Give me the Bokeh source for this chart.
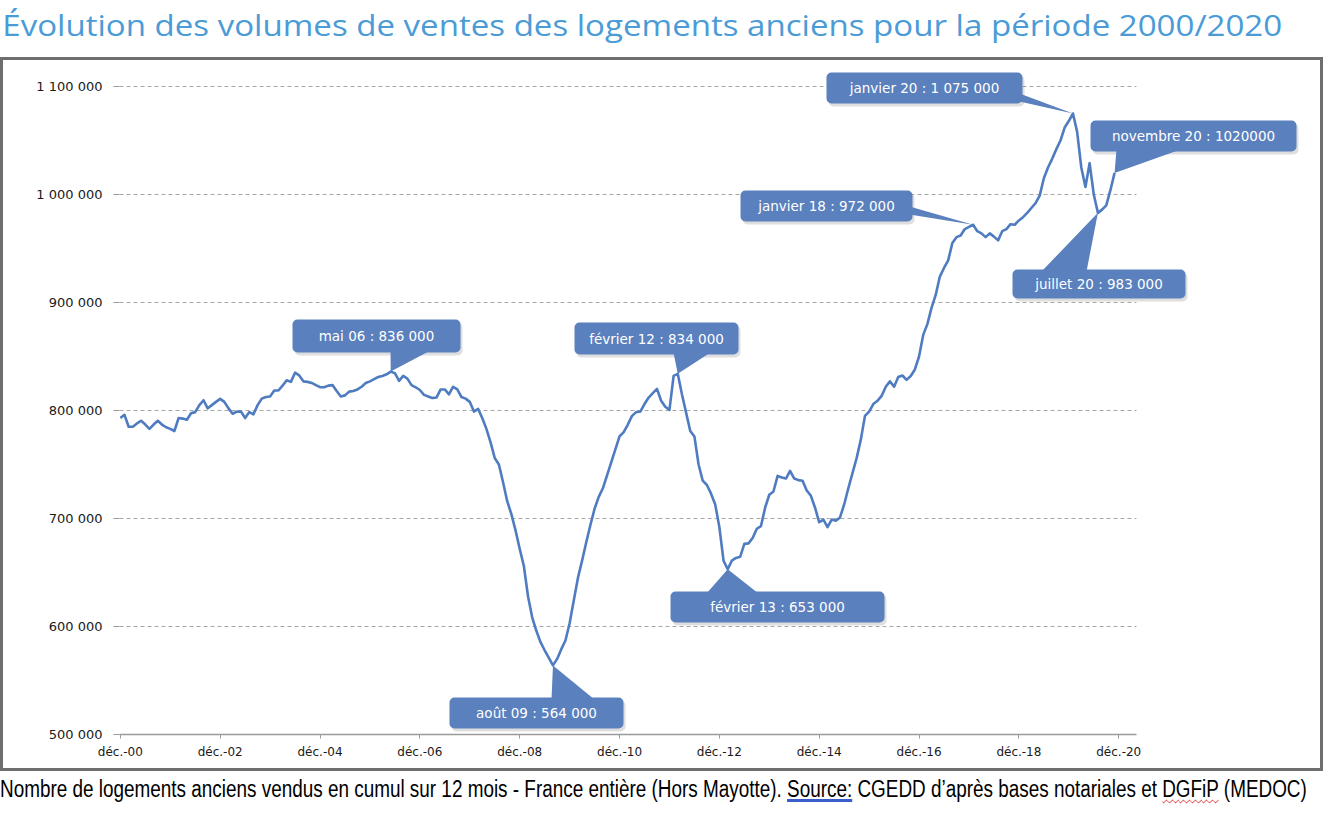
from bokeh.plotting import figure
from bokeh.models import Range1d, FixedTicker, Label, BoxAnnotation, PolyAnnotation, Div
from bokeh.layouts import column
from bokeh.embed import file_html
from bokeh.resources import INLINE

# ---------------- data ----------------
# month index: 0 = déc. 2000 ... 239 = nov. 2020
months = list(range(240))
ventes_milliers = [
    793, 796, 785, 785, 788, 790.5, 787, 783, 787, 790.5, 787, 784.5,
    783, 781, 793, 792.5, 791.5, 797.5, 798.5, 805, 809.5, 802, 805, 808,
    810.8, 808, 802, 797, 799, 799, 793, 798.5, 796.5, 805, 811, 812.5,
    813, 818.5, 818.5, 823, 828, 826.5, 835, 832.5, 827, 826.5, 825.5, 823.5,
    821.6, 821.5, 823, 823.5, 818, 813, 814, 817.5, 818, 819.5, 822, 825.5,
    827, 829, 831, 832, 833.5, 836, 834.5, 827.5, 832, 829.5, 823.5, 821.5,
    819, 814.5, 813, 811.5, 812, 819.5, 819.5, 815, 822, 819.5, 812.5, 811,
    808, 799, 801.5, 793, 783, 770.5, 756, 750, 733.5, 716, 704, 689,
    672, 656, 628, 608.5, 596, 585.5, 578, 571, 564, 570, 579, 587,
    603, 624, 645, 661, 678, 694, 709, 720, 728, 740, 752, 764,
    776, 780, 787, 795, 798.5, 799, 806, 812, 816, 820, 809, 803.5,
    800.5, 832, 834, 815, 798, 781, 776, 750, 735, 731, 723, 713,
    692, 661, 653, 661, 663.5, 664.5, 676.5, 677, 682, 690.5, 693, 710,
    722, 725, 739.5, 738, 737, 744, 737, 735.5, 735, 726, 721, 710,
    696.5, 699, 692, 699, 698, 701, 713, 728, 742, 756, 773, 795,
    799, 806, 809, 813.5, 822, 827, 822, 831, 832.4, 828.4, 832, 838,
    850, 870, 880, 895, 907, 924, 932, 939, 955, 960.5, 962, 968,
    970, 972, 966, 964, 960.5, 964, 961, 957.5, 966, 968, 972.5, 972,
    976, 979, 983, 987.5, 992, 999, 1015, 1025, 1033, 1042, 1050, 1062,
    1068, 1075, 1058, 1025, 1007, 1029, 1000, 983, 986, 990, 1004, 1020,
]
ventes = [v * 1000 for v in ventes_milliers]

y_ticks = [500000, 600000, 700000, 800000, 900000, 1000000, 1100000]
y_tick_labels = ["500 000", "600 000", "700 000", "800 000", "900 000", "1 000 000", "1 100 000"]
x_ticks = [0, 24, 48, 72, 96, 120, 144, 168, 192, 216, 240]
x_tick_labels = ["déc.-00", "déc.-02", "déc.-04", "déc.-06", "déc.-08", "déc.-10",
                 "déc.-12", "déc.-14", "déc.-16", "déc.-18", "déc.-20"]

callout_months = [65, 104, 134, 146, 205, 229, 235, 239]
callout_texts = ["mai 06 : 836 000", "août 09 : 564 000", "février 12 : 834 000",
                 "février 13 : 653 000", "janvier 18 : 972 000", "janvier 20 : 1 075 000",
                 "juillet 20 : 983 000", "novembre 20 : 1020000"]

title_text = "Évolution des volumes de ventes des logements anciens pour la période 2000/2020"
footer_a = "Nombre de logements anciens vendus en cumul sur 12 mois - France entière (Hors Mayotte)."
footer_src = "Source:"
footer_b = "CGEDD d’après bases notariales et"
footer_dgfip = "DGFiP"
footer_c = "(MEDOC)"

# ---------------- layout (page pixels) ----------------
W = 1328
TOP_H, FIG_H, FOOT_H = 57, 714, 43      # title strip, bordered chart, footer strip
FL, FR, FT, FB = 119, 1310, 60, 734     # plot frame on the page
AXIS_END = 1136                          # where the axis line and grid lines stop
X0 = -0.2
PXM = 4.16            # pixels per month
PXV = 1.08 / 1000     # pixels per unit
x_end = X0 + (FR - FL) / PXM
y_end = 500000 + (FB - FT) / PXV


def dx(px):
    return X0 + (px - FL) / PXM


def dy(py):
    return 500000 + (FB - py) / PXV


# callout boxes (left, right, top, bottom) and pointer bases, page pixels
callout_boxes = [(292, 460, 319, 352), (449, 623, 697, 728), (574, 738, 322, 354),
                 (670, 884, 591, 622), (740, 912, 190, 221), (826, 1022, 72, 103),
                 (1012, 1185, 269, 298), (1090, 1296, 120, 151)]
callout_bases = [((390, 350), (430, 350)), ((551, 699), (594, 699)), ((673, 352), (710, 352)),
                 ((706, 593), (758, 593)), ((909, 206), (909, 214)), ((1019, 93), (1019, 101)),
                 ((1041, 271), (1086, 271)), ((1116, 149), (1180, 149))]

BLUE_LINE = "#4F7CC0"
BLUE_BOX = "#5A80BE"
GREY_BORDER = "#6e6e6e"

p = figure(width=W, height=FIG_H, x_range=Range1d(X0, x_end), y_range=Range1d(500000, y_end),
           output_backend="svg", toolbar_location=None,
           min_border_left=FL, min_border_right=W - FR,
           min_border_top=FT - TOP_H, min_border_bottom=TOP_H + FIG_H - FB)
p.title.visible = False
p.outline_line_color = None
p.background_fill_color = None
p.border_fill_color = None
g = "linear-gradient(%s,%s)" % (GREY_BORDER, GREY_BORDER)
p.styles = {
    "background": (f"{g} 0px 0px / 1323px 3px no-repeat, "
                   f"{g} 0px {FIG_H - 3}px / 1323px 3px no-repeat, "
                   f"{g} 0px 0px / 3px {FIG_H}px no-repeat, "
                   f"{g} 1320px 0px / 3px {FIG_H}px no-repeat, #ffffff"),
}

# axes
p.yaxis.ticker = FixedTicker(ticks=y_ticks)
p.yaxis.major_label_overrides = dict(zip(y_ticks, y_tick_labels))
p.yaxis.axis_line_color = None
p.yaxis.major_tick_out = 6
p.yaxis.major_tick_in = 0
p.yaxis.minor_tick_line_color = None
p.yaxis.major_tick_line_color = "#9a9a9a"
p.yaxis.major_label_standoff = 11
p.yaxis.major_label_text_font = "DejaVu Sans"
p.yaxis.major_label_text_font_size = "13px"
p.yaxis.major_label_text_color = "#1a1a1a"

p.xaxis.ticker = FixedTicker(ticks=x_ticks)
p.xaxis.major_label_overrides = dict(zip(x_ticks, x_tick_labels))
p.xaxis.bounds = (X0, dx(AXIS_END))
p.xaxis.axis_line_color = "#9a9a9a"
p.xaxis.axis_line_width = 1.5
p.xaxis.major_tick_out = 4
p.xaxis.major_tick_in = 0
p.xaxis.major_tick_line_color = "#9a9a9a"
p.xaxis.minor_tick_line_color = None
p.xaxis.major_label_standoff = 6
p.xaxis.major_label_text_font = "DejaVu Sans"
p.xaxis.major_label_text_font_size = "12px"
p.xaxis.major_label_text_color = "#1a1a1a"

p.xgrid.grid_line_color = None
p.ygrid.grid_line_color = "#a8a8a8"
p.ygrid.grid_line_dash = "4 3"
p.ygrid.grid_line_width = 1
try:
    p.ygrid.cross_bounds = (X0, dx(AXIS_END))
except Exception:
    p.ygrid.grid_line_color = None
    p.segment(x0=[X0] * len(y_ticks), y0=y_ticks, x1=[dx(AXIS_END)] * len(y_ticks), y1=y_ticks,
              line_color="#a8a8a8", line_dash="4 3", line_width=1)

# series
p.line(months, ventes, line_color=BLUE_LINE, line_width=2.6, line_join="round")

# callouts
for m, txt, box, base in zip(callout_months, callout_texts, callout_boxes, callout_bases):
    l, r, t, b = box
    p.add_layout(BoxAnnotation(left=dx(l + 2), right=dx(r + 2), top=dy(t + 3), bottom=dy(b + 3),
                               fill_color="black", fill_alpha=0.13, line_color=None, border_radius=5))
    (bx1, by1), (bx2, by2) = base
    p.add_layout(PolyAnnotation(xs=[dx(bx1), m, dx(bx2)], ys=[dy(by1), ventes[m], dy(by2)],
                                fill_color=BLUE_BOX, fill_alpha=1, line_color=None))
    p.add_layout(BoxAnnotation(left=dx(l), right=dx(r), top=dy(t), bottom=dy(b),
                               fill_color=BLUE_BOX, fill_alpha=1, line_color=None, border_radius=5))
    p.add_layout(Label(x=dx((l + r) / 2), y=dy((t + b) / 2), text=txt, text_align="center",
                       text_baseline="middle", text_color="white", text_font="DejaVu Sans",
                       text_font_size="13.5px"))

# title and footer strips
title_div = Div(
    text=(f"<div style=\"font-family:'Open Sans',sans-serif;font-size:29px;line-height:38px;"
          f"color:#4A9BD6;white-space:nowrap;padding:6px 0 0 2px;margin:0;"
          f"transform:scaleX(1.14);transform-origin:0 0;\">{title_text}</div>"),
    width=W, height=TOP_H, styles={"margin": "0", "padding": "0"})

footer_div = Div(
    text=("<div style=\"font-family:'Liberation Sans',Arial,sans-serif;"
          "font-size:23px;line-height:26px;color:#000;white-space:nowrap;"
          "padding:5px 0 0 0;margin:0;transform:scaleX(0.822);transform-origin:0 0;\">"
          f"{footer_a} "
          "<span style=\"text-decoration:underline;text-decoration-color:#3A5FCD;"
          f"text-decoration-thickness:3px;text-underline-offset:2px;\">{footer_src}</span> "
          f"{footer_b} "
          "<span style=\"text-decoration:underline wavy #e02020;text-decoration-thickness:1px;"
          f"text-underline-offset:2px;\">{footer_dgfip}</span> {footer_c}</div>"),
    width=W, height=FOOT_H, styles={"margin": "0", "padding": "0"})

page = column(title_div, p, footer_div, spacing=0)

open("out.html", "w").write(file_html(page, INLINE))
